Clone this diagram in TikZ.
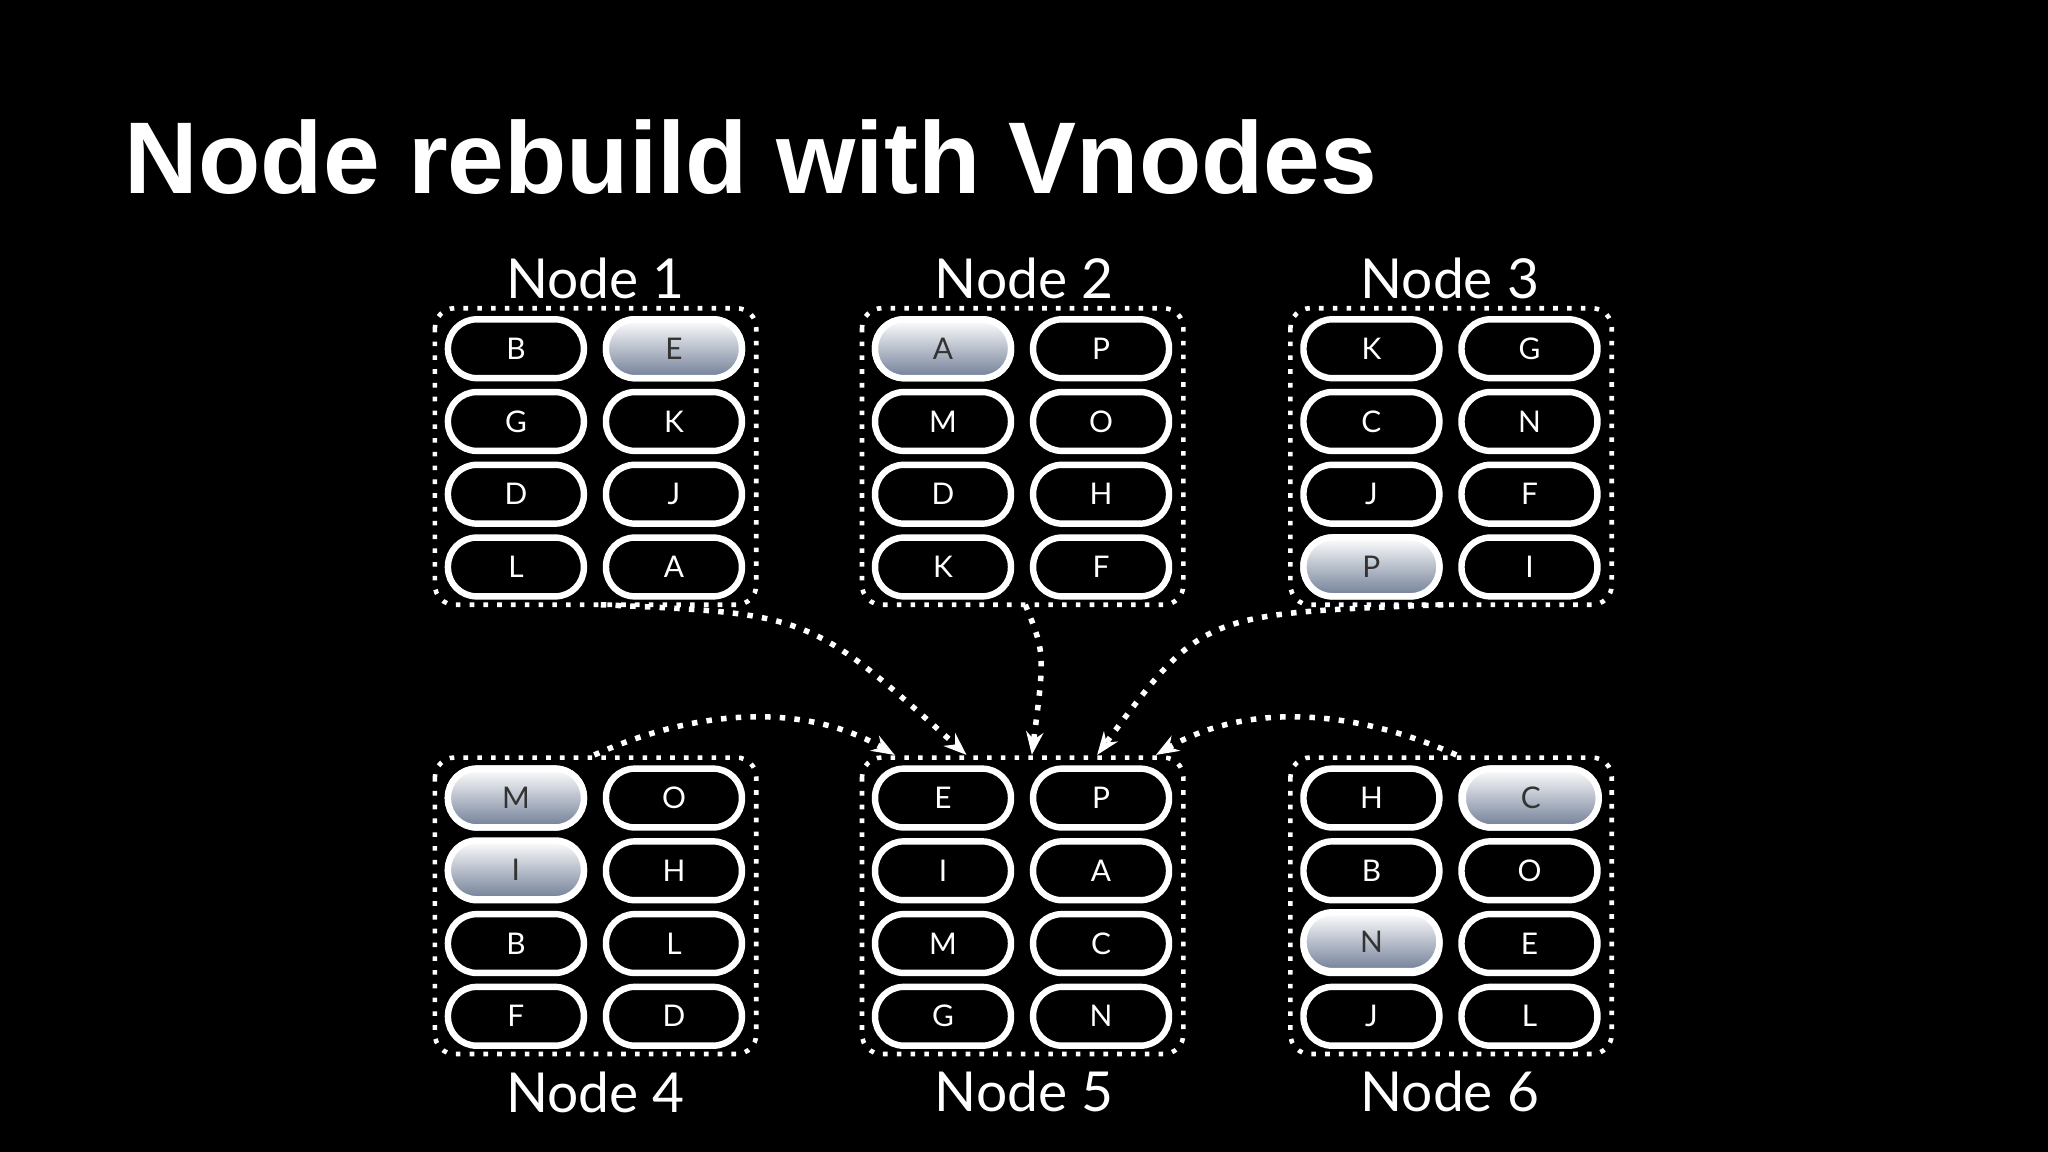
\documentclass[tikz,border=0pt]{standalone}
\usepackage{fontspec}
\setmainfont{Lato}
\newfontfamily\titlefont{Liberation Sans}
\usetikzlibrary{arrows.meta}
\definecolor{slate}{RGB}{112,126,150}
\begin{document}
\begin{tikzpicture}[x=0.01cm,y=-0.01cm,
  pill/.style={draw=white, line width=1.4pt, rounded corners=0.22cm, minimum width=1.04cm, minimum height=0.45cm, inner sep=0pt, text=white, font=\fontsize{6.5}{8}\selectfont},
  hi/.style={top color=white, bottom color=slate, text=black!80},
  box/.style={draw=white, dotted, line width=1pt, rounded corners=0.15cm},
  lbl/.style={text=white, font=\fontsize{12}{14}\selectfont},
  arr/.style={draw=white, dotted, line width=1.2pt, -{Stealth[length=5pt]}}]
\fill[black] (0,0) rectangle (1568,882);
\node[anchor=base west, inner sep=0pt, text=white, font=\titlefont\bfseries\fontsize{22.2}{26}\selectfont] (title) at (95,148) {Node rebuild with Vnodes};
% boxes: name, left x, top y
\foreach \n/\x/\y in {n1/333/236, n2/660/236, n3/988/236, n4/333/580, n5/660/580, n6/988/580}
  \draw[box] (\x,\y) rectangle ++(246,227) node[pos=0.5] (\n) {};
% pills: box x, box y, letters
\newcommand\pills[3]{%
  \foreach \l [count=\i from 0] in {#3} {
    \pgfmathsetmacro\cx{#1+62+121*mod(\i,2)}
    \pgfmathsetmacro\cy{#2+31+55.7*int(\i/2)}
    \node[pill] at (\cx,\cy) {\l};
  }
}
\pills{333}{236}{B,E,G,K,D,J,L,A}
\node[pill,hi] at (516,267) {E};
\pills{660}{236}{A,P,M,O,D,H,K,F}
\node[pill,hi] at (722,267) {A};
\pills{988}{236}{K,G,C,N,J,F,P,I}
\node[pill,hi] at (1050,434) {P};
\pills{333}{580}{M,O,I,H,B,L,F,D}
\node[pill,hi] at (395,611) {M};
\node[pill,hi] at (395,666) {I};
\pills{660}{580}{E,P,I,A,M,C,G,N}
\pills{988}{580}{H,C,B,O,N,E,J,L}
\node[pill,hi] at (1172,611) {C};
\node[pill,hi] at (1050,721) {N};
% labels
\node[lbl] (l1) at (456,213) {Node 1};
\node[lbl] (l2) at (784,213) {Node 2};
\node[lbl] (l3) at (1110,213) {Node 3};
\node[lbl] (l4) at (456,836) {Node 4};
\node[lbl] (l5) at (784,836) {Node 5};
\node[lbl] (l6) at (1110,836) {Node 6};
% arrow ends
\coordinate (s1) at (460,463);
\coordinate (s2) at (785,463);
\coordinate (s3) at (1105,463);
\coordinate (s4) at (455,578);
\coordinate (s6) at (1115,578);
\coordinate (t1) at (740,578);
\coordinate (t2) at (790,578);
\coordinate (t3) at (840,578);
\coordinate (t4) at (685,578);
\coordinate (t6) at (885,578);
\draw[arr] (s1) .. controls (620,470) .. (t1);
\draw[arr] (s2) .. controls (800,500) .. (t2);
\draw[arr] (s3) .. controls (920,470) .. (t3);
\draw[arr] (s4) .. controls (540,540) and (620,540) .. (t4);
\draw[arr] (s6) .. controls (1030,540) and (950,540) .. (t6);
\end{tikzpicture}
\end{document}
